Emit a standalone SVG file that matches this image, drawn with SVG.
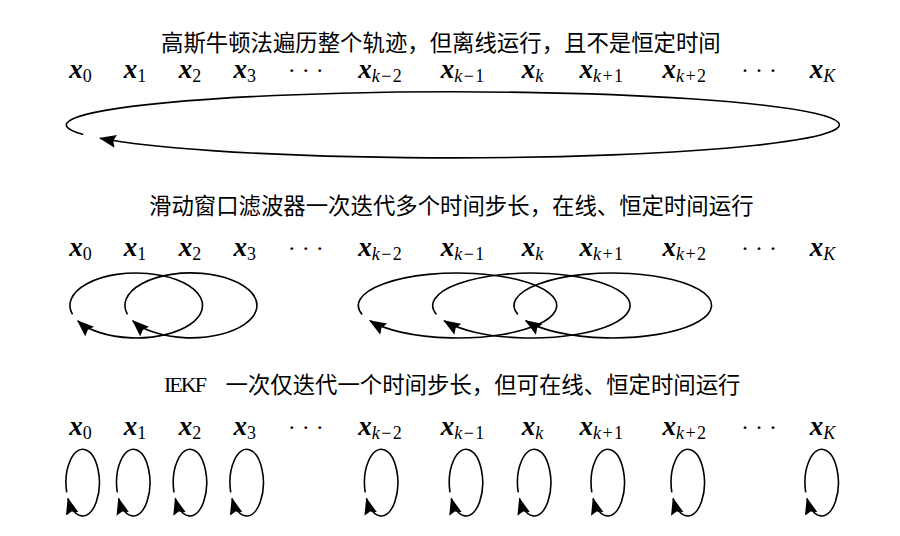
<svg xmlns="http://www.w3.org/2000/svg" width="900" height="536" viewBox="0 0 900 536">
<style>
.t{font-family:"Liberation Serif","Noto Sans CJK SC",serif;font-size:22.4px;fill:#000}
.ie{font-family:"Liberation Serif",serif;font-size:22px;letter-spacing:-2px;fill:#000}
.m{font-family:"Liberation Serif",serif;font-size:27px;fill:#000;text-anchor:middle}
.x{font-weight:bold;font-style:italic}
.s{font-size:18px;letter-spacing:1.5px}
.i{font-style:italic}
.d{font-size:24px}
.c{fill:none;stroke:#000;stroke-width:1.6}
</style>
<defs>
<marker id="ah" markerUnits="userSpaceOnUse" markerWidth="17" markerHeight="14" viewBox="0 0 17 14" refX="16" refY="7" orient="auto"><path d="M0,0.5 L17,7 L0,13.5 L2.5,7 Z" fill="#000"/></marker>
</defs>
<rect width="900" height="536" fill="#fff"/>
<text class="t" x="161" y="50.5">高斯牛顿法遍历整个轨迹，但离线运行，且不是恒定时间</text>
<text class="t" x="149" y="213.5">滑动窗口滤波器一次迭代多个时间步长，在线、恒定时间运行</text>
<text class="ie" x="164" y="392">IEKF</text>
<text class="t" x="225.5" y="392.5">一次仅迭代一个时间步长，但可在线、恒定时间运行</text>

<g id="row1-labels">
<g id="r1-x0"><text class="m" x="81.3" y="77.5"><tspan class="x">x</tspan><tspan class="s" dy="4">0</tspan></text></g>
<g id="r1-x1"><text class="m" x="135.8" y="77.5"><tspan class="x">x</tspan><tspan class="s" dy="4">1</tspan></text></g>
<g id="r1-x2"><text class="m" x="190.8" y="77.5"><tspan class="x">x</tspan><tspan class="s" dy="4">2</tspan></text></g>
<g id="r1-x3"><text class="m" x="245.5" y="77.5"><tspan class="x">x</tspan><tspan class="s" dy="4">3</tspan></text></g>
<g id="r1-d1"><text class="m d" x="305.8" y="77.5">· · ·</text></g>
<g id="r1-xkm2"><text class="m" x="380.8" y="77.5"><tspan class="x">x</tspan><tspan class="s" dy="4"><tspan class="i">k</tspan>−2</tspan></text></g>
<g id="r1-xkm1"><text class="m" x="463.3" y="77.5"><tspan class="x">x</tspan><tspan class="s" dy="4"><tspan class="i">k</tspan>−1</tspan></text></g>
<g id="r1-xk"><text class="m" x="533.3" y="77.5"><tspan class="x">x</tspan><tspan class="s i" dy="4">k</tspan></text></g>
<g id="r1-xkp1"><text class="m" x="602" y="77.5"><tspan class="x">x</tspan><tspan class="s" dy="4"><tspan class="i">k</tspan>+1</tspan></text></g>
<g id="r1-xkp2"><text class="m" x="685" y="77.5"><tspan class="x">x</tspan><tspan class="s" dy="4"><tspan class="i">k</tspan>+2</tspan></text></g>
<g id="r1-d2"><text class="m d" x="759" y="77.5">· · ·</text></g>
<g id="r1-xK"><text class="m" x="823.3" y="77.5"><tspan class="x">x</tspan><tspan class="s i" dy="4">K</tspan></text></g>
</g>

<g id="row2-labels">
<g id="r2-x0"><text class="m" x="81.3" y="255.5"><tspan class="x">x</tspan><tspan class="s" dy="4">0</tspan></text></g>
<g id="r2-x1"><text class="m" x="135.8" y="255.5"><tspan class="x">x</tspan><tspan class="s" dy="4">1</tspan></text></g>
<g id="r2-x2"><text class="m" x="190.8" y="255.5"><tspan class="x">x</tspan><tspan class="s" dy="4">2</tspan></text></g>
<g id="r2-x3"><text class="m" x="245.5" y="255.5"><tspan class="x">x</tspan><tspan class="s" dy="4">3</tspan></text></g>
<g id="r2-d1"><text class="m d" x="305.8" y="255.5">· · ·</text></g>
<g id="r2-xkm2"><text class="m" x="380.8" y="255.5"><tspan class="x">x</tspan><tspan class="s" dy="4"><tspan class="i">k</tspan>−2</tspan></text></g>
<g id="r2-xkm1"><text class="m" x="463.3" y="255.5"><tspan class="x">x</tspan><tspan class="s" dy="4"><tspan class="i">k</tspan>−1</tspan></text></g>
<g id="r2-xk"><text class="m" x="533.3" y="255.5"><tspan class="x">x</tspan><tspan class="s i" dy="4">k</tspan></text></g>
<g id="r2-xkp1"><text class="m" x="602" y="255.5"><tspan class="x">x</tspan><tspan class="s" dy="4"><tspan class="i">k</tspan>+1</tspan></text></g>
<g id="r2-xkp2"><text class="m" x="685" y="255.5"><tspan class="x">x</tspan><tspan class="s" dy="4"><tspan class="i">k</tspan>+2</tspan></text></g>
<g id="r2-d2"><text class="m d" x="759" y="255.5">· · ·</text></g>
<g id="r2-xK"><text class="m" x="823.3" y="255.5"><tspan class="x">x</tspan><tspan class="s i" dy="4">K</tspan></text></g>
</g>

<g id="row3-labels">
<g id="r3-x0"><text class="m" x="81.3" y="434.5"><tspan class="x">x</tspan><tspan class="s" dy="4">0</tspan></text></g>
<g id="r3-x1"><text class="m" x="135.8" y="434.5"><tspan class="x">x</tspan><tspan class="s" dy="4">1</tspan></text></g>
<g id="r3-x2"><text class="m" x="190.8" y="434.5"><tspan class="x">x</tspan><tspan class="s" dy="4">2</tspan></text></g>
<g id="r3-x3"><text class="m" x="245.5" y="434.5"><tspan class="x">x</tspan><tspan class="s" dy="4">3</tspan></text></g>
<g id="r3-d1"><text class="m d" x="305.8" y="434.5">· · ·</text></g>
<g id="r3-xkm2"><text class="m" x="380.8" y="434.5"><tspan class="x">x</tspan><tspan class="s" dy="4"><tspan class="i">k</tspan>−2</tspan></text></g>
<g id="r3-xkm1"><text class="m" x="463.3" y="434.5"><tspan class="x">x</tspan><tspan class="s" dy="4"><tspan class="i">k</tspan>−1</tspan></text></g>
<g id="r3-xk"><text class="m" x="533.3" y="434.5"><tspan class="x">x</tspan><tspan class="s i" dy="4">k</tspan></text></g>
<g id="r3-xkp1"><text class="m" x="602" y="434.5"><tspan class="x">x</tspan><tspan class="s" dy="4"><tspan class="i">k</tspan>+1</tspan></text></g>
<g id="r3-xkp2"><text class="m" x="685" y="434.5"><tspan class="x">x</tspan><tspan class="s" dy="4"><tspan class="i">k</tspan>+2</tspan></text></g>
<g id="r3-d2"><text class="m d" x="759" y="434.5">· · ·</text></g>
<g id="r3-xK"><text class="m" x="823.3" y="434.5"><tspan class="x">x</tspan><tspan class="s i" dy="4">K</tspan></text></g>
</g>

<g id="connectors">
<path class="c" marker-end="url(#ah)" d="M83.3,134.5 A386.5,33 0 1 1 100,138.3"/>
<path class="c" marker-end="url(#ah)" d="M72.5,314.4 A66.3,32.5 0 1 1 77.8,320.8"/>
<path class="c" marker-end="url(#ah)" d="M127.5,314.4 A66,32.5 0 1 1 132.8,320.8"/>
<path class="c" marker-end="url(#ah)" d="M362.1,314.4 A99.2,32.5 0 1 1 370,320.8"/>
<path class="c" marker-end="url(#ah)" d="M436.4,314.4 A98.7,32.5 0 1 1 444.2,320.8"/>
<path class="c" marker-end="url(#ah)" d="M517.8,314.4 A98.8,32.5 0 1 1 525.7,320.8"/>
<path class="c" marker-end="url(#ah)" d="M66.7,492.3 A16.7,33.3 0 1 1 68,498.5"/>
<path class="c" marker-end="url(#ah)" d="M117.3,492.3 A16.7,33.3 0 1 1 118.6,498.5"/>
<path class="c" marker-end="url(#ah)" d="M174,492.3 A16.7,33.3 0 1 1 175.3,498.5"/>
<path class="c" marker-end="url(#ah)" d="M230.7,492.3 A16.7,33.3 0 1 1 232,498.5"/>
<path class="c" marker-end="url(#ah)" d="M365.2,492.3 A16.7,33.3 0 1 1 366.5,498.5"/>
<path class="c" marker-end="url(#ah)" d="M450,492.3 A16.7,33.3 0 1 1 451.3,498.5"/>
<path class="c" marker-end="url(#ah)" d="M518.2,492.3 A16.7,33.3 0 1 1 519.5,498.5"/>
<path class="c" marker-end="url(#ah)" d="M591.8,492.3 A16.7,33.3 0 1 1 593.1,498.5"/>
<path class="c" marker-end="url(#ah)" d="M671.8,492.3 A16.7,33.3 0 1 1 673.1,498.5"/>
<path class="c" marker-end="url(#ah)" d="M805.7,492.3 A16.7,33.3 0 1 1 807,498.5"/>
</g>
</svg>
